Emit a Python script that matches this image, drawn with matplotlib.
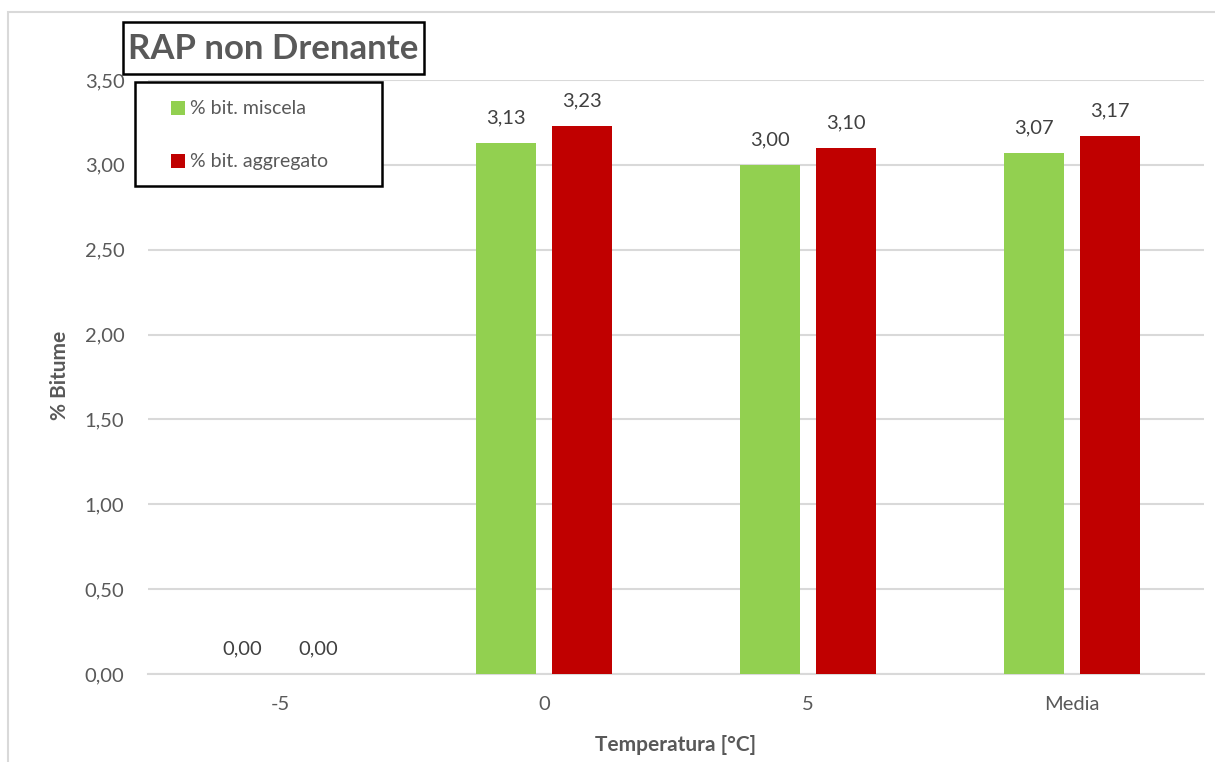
import matplotlib.pyplot as plt
import numpy as np
from matplotlib.patches import Rectangle

plt.rcParams['font.family'] = ['Lato', 'DejaVu Sans']

categories = ['-5', '0', '5', 'Media']
bit_miscela = [0.00, 3.13, 3.00, 3.07]
bit_aggregato = [0.00, 3.23, 3.10, 3.17]
series_names = ['% bit. miscela', '% bit. aggregato']
colors = ['#92d050', '#c00000']

W, H = 1215, 762
fig = plt.figure(figsize=(W / 100, H / 100), dpi=100)
ax = fig.add_axes([148 / W, 1 - 674 / H, (1204 - 148) / W, (674 - 80) / H])

x = np.arange(len(categories))
bw = 0.224
off = 0.144
text_col = '#595959'

for vals, sign, col in [(bit_miscela, -1, colors[0]), (bit_aggregato, 1, colors[1])]:
    bars = ax.bar(x + sign * off, vals, bw, color=col, zorder=3)
    for b, v in zip(bars, vals):
        ax.annotate(f'{v:.2f}'.replace('.', ','), (b.get_x() + b.get_width() / 2, v),
                    xytext=(0, 12), textcoords='offset points', ha='center', va='bottom',
                    fontsize=14.5, color='#404040')

ax.set_xlim(-0.5, len(categories) - 0.5)
ax.set_ylim(0, 3.5)
ax.set_yticks(np.arange(0, 3.51, 0.5))
ax.set_yticklabels([f'{t:.2f}'.replace('.', ',') for t in np.arange(0, 3.51, 0.5)])
ax.set_xticks(x)
ax.set_xticklabels(categories)
ax.tick_params(length=0, labelsize=14.5, colors=text_col)
ax.tick_params(axis='x', pad=16)
ax.tick_params(axis='y', pad=17)
ax.grid(axis='y', color='#d9d9d9', linewidth=1.5, zorder=0)
for s in ['top', 'right', 'left']:
    ax.spines[s].set_visible(False)
ax.spines['bottom'].set_color('#d9d9d9')
ax.spines['bottom'].set_linewidth(1.5)

fig.text(676 / W, 1 - 745 / H, 'Temperatura [°C]', ha='center', va='center',
         fontsize=15, fontweight='bold', color=text_col)
fig.text(60 / W, 1 - 375 / H, '% Bitume', ha='center', va='center', rotation=90,
         fontsize=15, fontweight='bold', color=text_col)

# outer chart border
fig.add_artist(Rectangle((8 / W, -0.05), 1.1, 1 - 12 / H + 0.05, transform=fig.transFigure,
                         fill=False, edgecolor='#d9d9d9', linewidth=1.5))

# title box
fig.add_artist(Rectangle((123 / W, 1 - 74 / H), (424 - 123) / W, (74 - 22) / H,
                         transform=fig.transFigure, facecolor='white', edgecolor='black',
                         linewidth=1.8, zorder=5))
fig.text(273 / W, 1 - 49 / H, 'RAP non Drenante', ha='center', va='center',
         fontsize=25, fontweight='bold', color=text_col, zorder=6)

# legend box
fig.add_artist(Rectangle((135 / W, 1 - 186 / H), (382 - 135) / W, (186 - 82) / H,
                         transform=fig.transFigure, facecolor='white', edgecolor='black',
                         linewidth=1.8, zorder=5))
for name, col, yc in zip(series_names, colors, [108, 161]):
    fig.add_artist(Rectangle((171 / W, 1 - (yc + 7) / H), 14 / W, 14 / H,
                             transform=fig.transFigure, facecolor=col, edgecolor='none', zorder=6))
    fig.text(190 / W, 1 - yc / H, name, ha='left', va='center', fontsize=14,
             color=text_col, zorder=6)

fig.savefig('out.png', dpi=100)
